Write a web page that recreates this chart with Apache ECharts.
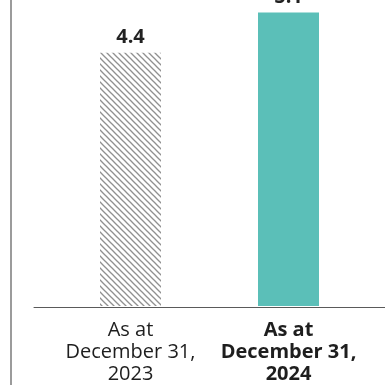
<!DOCTYPE html>
<html><head><meta charset="utf-8">
<script src="https://cdn.jsdelivr.net/npm/echarts@6/dist/echarts.min.js"></script>
<style>html,body{margin:0;padding:0;background:#fff}#c{width:385px;height:385px}</style>
</head><body><div id="c"></div>
<script>
const categories = ['As at\nDecember 31,\n2023', 'As at\nDecember 31,\n2024'];
const values = [4.4, 5.1];
const labels = ['4.4', '5.1'];

// hatch tile
const tile = document.createElement('canvas');
tile.width = 6; tile.height = 6;
const g = tile.getContext('2d');
g.fillStyle = '#fff'; g.fillRect(0,0,6,6);
g.strokeStyle = '#909090'; g.lineWidth = 1.3;
[[-1,-1,7,7],[-4,2,2,8],[2,-4,8,2]].forEach(function(s){g.beginPath();g.moveTo(s[0],s[1]);g.lineTo(s[2],s[3]);g.stroke();});

const chart = echarts.init(document.getElementById('c'), null, {renderer:'canvas'});
const font = '"Open Sans", sans-serif';
chart.setOption({
  animation:false,
  grid:[
    {left:51.5, right:17.5, top:1, bottom:78},
    {left:34, right:0, top:1, bottom:78},
    {left:11, right:0, top:0, bottom:0}
  ],
  xAxis:[
    {type:'category', gridIndex:0, data:[
      {value:categories[0]},
      {value:categories[1], textStyle:{fontWeight:'bold'}}
    ],
     axisLine:{show:false}, axisTick:{show:false},
     axisLabel:{fontFamily:font, fontSize:20, lineHeight:22, color:'#1e1e1e', margin:13, interval:0}},
    {type:'value', gridIndex:1, min:0, max:1, axisLine:{show:true, lineStyle:{color:'#5a5a5a', width:1}}, axisTick:{show:false}, axisLabel:{show:false}, splitLine:{show:false}},
    {type:'value', gridIndex:2, min:0, max:1, show:false}
  ],
  yAxis:[
    {type:'value', gridIndex:0, min:0, max:5.3, show:false},
    {type:'value', gridIndex:1, show:false},
    {type:'value', gridIndex:2, min:0, max:1, axisLine:{show:true, lineStyle:{color:'#7a7a7a', width:1.5}}, axisTick:{show:false}, axisLabel:{show:false}, splitLine:{show:false}}
  ],
  series:[{
    type:'bar', xAxisIndex:0, yAxisIndex:0, barWidth:61,
    data:[
      {value:values[0], itemStyle:{color:{image:tile, repeat:'repeat'}}},
      {value:values[1], itemStyle:{color:'#5bbfb8'}}
    ],
    label:{show:true, position:'top', distance:5, fontFamily:font, fontSize:20, fontWeight:'bold', color:'#222',
      formatter:function(p){return labels[p.dataIndex];}}
  }]
});
</script></body></html>
